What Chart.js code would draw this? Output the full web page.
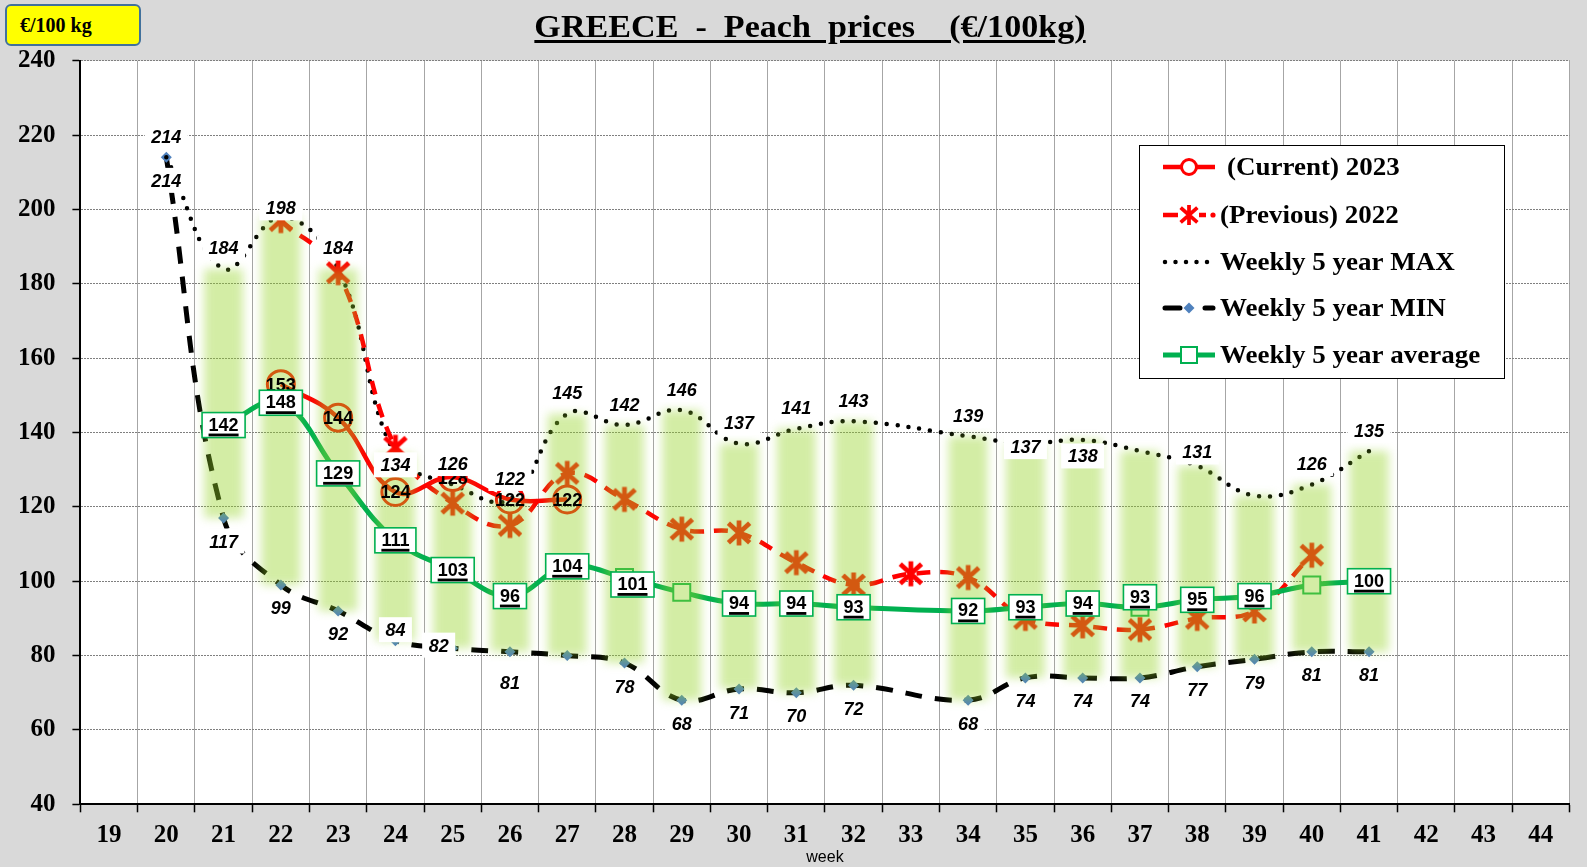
<!DOCTYPE html>
<html>
<head>
<meta charset="utf-8">
<script src="https://cdn.jsdelivr.net/npm/chart.js@4.4.1/dist/chart.umd.min.js"></script>
<style>
html,body{margin:0;padding:0;background:#d9d9d9;}
#wrap{position:relative;width:1587px;height:867px;overflow:hidden;background:#d9d9d9;}
#c{position:absolute;left:0;top:0;}
#unit{position:absolute;left:5px;top:4px;width:119px;height:38px;padding-left:13px;background:#ffff00;border:2px solid #41719c;border-radius:6px;font:bold 20px "Liberation Serif";line-height:38px;color:#000;}
#title{position:absolute;left:809.6px;top:11px;transform:translateX(-50%) scaleX(1.1);font:bold 31px "Liberation Serif";line-height:31px;white-space:pre;text-decoration:underline;text-decoration-thickness:2.5px;text-underline-offset:3px;color:#000;}
</style>
</head>
<body>
<div id="wrap">
<canvas id="c" width="1587" height="867"></canvas>
<div id="unit">€/100 kg</div>
<div id="title">GREECE  -  Peach  prices    (€/100kg)</div>
</div>
<script>
// ---------- DATA ----------
const weeks = ['19','20','21','22','23','24','25','26','27','28','29','30','31','32','33','34','35','36','37','38','39','40','41','42','43','44'];
//                19    20    21   22   23   24   25   26   27   28   29   30   31   32   33   34   35   36   37   38   39   40   41   42   43   44
const cur2023  = [null, null, null, 153, 144, 124, 128, 122, 122, null,null,null,null,null,null,null,null,null,null,null,null,null,null,null,null,null];
const prev2022 = [null, null, null, 197, 183, 136, 121, 115, 129, 122, 114, 113, 105, 99,  102, 101, 90,  88,  87,  90,  92,  107, null,null,null,null];
const max5y    = [null, 214,  184,  198, 184, 134, 126, 122, 145, 142, 146, 137, 141, 143, null,139, 137, 138, 135, 131, 123, 126, 135, null,null,null];
const min5y    = [null, 214,  117,  99,  92,  84,  82,  81,  80,  78,  68,  71,  70,  72,  null,68,  74,  74,  74,  77,  79,  81,  81,  null,null,null];
const avg5y    = [null, null, 142,  148, 129, 111, 103, 96,  104, 101, 97,  94,  94,  93,  null,92,  93,  94,  93,  95,  96,  99,  100, null,null,null];
const yTicks   = [40, 60, 80, 100, 120, 140, 160, 180, 200, 220, 240];
// weeks whose value label is not shown in the reference
const maxNoLabel = ['37','39'];
const minNoLabel = ['27'];
const avgNoLabel = ['29','40'];

// band between 5-year min and max (built from the arrays above)
const band = weeks.map((w,i)=> (max5y[i]!=null && min5y[i]!=null && max5y[i]>min5y[i]) ? [min5y[i], max5y[i]] : null);

// ---------- STYLE HELPERS ----------
function makeStar(color, s){
  const c=document.createElement('canvas'); c.width=s; c.height=s;
  const g=c.getContext('2d'); g.strokeStyle=color; g.lineWidth=s*0.17; g.lineCap='butt';
  const p=s*0.12, q=s*0.05;
  g.beginPath();
  g.moveTo(p,p+1); g.lineTo(s-p,s-p-1);
  g.moveTo(s-p,p+1); g.lineTo(p,s-p-1);
  g.moveTo(s/2,q); g.lineTo(s/2,s-q);
  g.stroke();
  return c;
}
const starImg = makeStar('#ff0000', 28);
const starLegend = makeStar('#ff0000', 22);

const FONT_LBL = 'bold 18px "Liberation Sans"';
const FONT_LBL_I = 'italic bold 18px "Liberation Sans"';

// label nudges (pixels) keyed by week
const labelNudge = {
  max: {'22':[0,12],'24':[0,31],'35':[0,24],'36':[0,37],'38':[0,7]},
  min: {'24':[0,-34],'25':[-14,-26],'26':[0,8]},
  avg: {'37':[0,-10],'28':[8,7]}
};

const plotBg = {
  id:'plotBg',
  beforeDraw(chart){
    const {ctx, chartArea:a} = chart;
    ctx.save(); ctx.fillStyle='#ffffff';
    ctx.fillRect(a.left, a.top, a.right-a.left, a.bottom-a.top);
    ctx.restore();
  }
};

const bandBlur = {
  id:'bandBlur',
  beforeDatasetDraw(chart, args){
    if(args.meta.type==='bar'){ chart.ctx.save(); chart.ctx.filter='blur(5px)'; }
  },
  afterDatasetDraw(chart, args){
    if(args.meta.type==='bar'){ chart.ctx.restore(); }
  }
};

const valueLabels = {
  id:'valueLabels',
  afterDatasetsDraw(chart){
    const ctx=chart.ctx;
    chart.data.datasets.forEach((ds,di)=>{
      const cfg=ds.valueLabels; if(!cfg) return;
      const meta=chart.getDatasetMeta(di);
      meta.data.forEach((el,i)=>{
        const v=ds.data[i]; if(v==null) return;
        const wk=chart.data.labels[i];
        if(cfg.hide && cfg.hide.includes(wk)) return;
        const nd=(cfg.nudge && cfg.nudge[wk]) || [0,0];
        const x=el.x+nd[0];
        const y=el.y+(cfg.dy||0)+nd[1];
        const txt=String(v);
        ctx.save();
        ctx.font=cfg.font;
        const w=ctx.measureText(txt).width;
        const cap=13;
        if(cfg.kind==='boxed' || cfg.kind==='avg'){
          const bw=w+13, bh=25;
          ctx.fillStyle='#ffffff';
          ctx.fillRect(x-bw/2, y-bh/2, bw, bh);
          if(cfg.kind==='avg'){
            ctx.strokeStyle='#00b050'; ctx.lineWidth=1.6;
            ctx.strokeRect(x-bw/2, y-bh/2, bw, bh);
          }
        }
        ctx.fillStyle='#000'; ctx.textAlign='center'; ctx.textBaseline='alphabetic';
        const base = cfg.kind==='avg' ? y+cap/2-1 : y+cap/2;
        ctx.fillText(txt, x, base);
        if(cfg.kind==='avg'){
          ctx.fillStyle='#000';
          ctx.fillRect(x-w/2, base+3, w, 2.8);
        }
        ctx.restore();
      });
    });
  }
};

function stretchText(ctx, txt, x, y, sx){
  ctx.save(); ctx.translate(x, y); ctx.scale(sx, 1); ctx.fillText(txt, 0, 0); ctx.restore();
}

const legendBox = {
  id:'legendBox',
  afterDraw(chart){
    const ctx=chart.ctx;
    const L={x:1139.5, y:145.5, w:365, h:233};
    ctx.save();
    ctx.fillStyle='#fff'; ctx.fillRect(L.x,L.y,L.w,L.h);
    ctx.strokeStyle='#000'; ctx.lineWidth=1; ctx.strokeRect(L.x,L.y,L.w,L.h);
    const rows=[167,215,262,308,355];
    const x0=1163, x1=1215, xm=1189, SX=1.08;
    ctx.font='bold 25px "Liberation Serif"'; ctx.textBaseline='alphabetic'; ctx.fillStyle='#000';
    const ds=chart.data.datasets;
    // current
    let y=rows[0];
    ctx.strokeStyle='#ff0000'; ctx.lineWidth=4.5; ctx.setLineDash([]);
    ctx.beginPath(); ctx.moveTo(x0,y); ctx.lineTo(x1,y); ctx.stroke();
    ctx.beginPath(); ctx.arc(xm,y,7.5,0,Math.PI*2); ctx.fillStyle='#fff'; ctx.fill(); ctx.lineWidth=3; ctx.stroke();
    ctx.fillStyle='#000'; stretchText(ctx, ds[1].label, 1227, y+8, SX);
    // previous
    y=rows[1];
    ctx.strokeStyle='#ff0000'; ctx.lineWidth=4.5;
    ctx.beginPath(); ctx.moveTo(x0,y); ctx.lineTo(1178,y); ctx.moveTo(1199,y); ctx.lineTo(1206,y); ctx.stroke();
    ctx.beginPath(); ctx.arc(1213,y,2.6,0,Math.PI*2); ctx.fillStyle='#ff0000'; ctx.fill();
    ctx.drawImage(starLegend, xm-11, y-11);
    ctx.fillStyle='#000'; stretchText(ctx, ds[2].label, 1220, y+8, SX);
    // max
    y=rows[2];
    ctx.strokeStyle='#000'; ctx.lineWidth=4.5; ctx.lineCap='round'; ctx.setLineDash([0,10.5]);
    ctx.beginPath(); ctx.moveTo(x0+2,y); ctx.lineTo(x1,y); ctx.stroke();
    ctx.setLineDash([]); ctx.lineCap='butt';
    stretchText(ctx, ds[3].label, 1220, y+8, SX);
    // min
    y=rows[3];
    ctx.strokeStyle='#000'; ctx.lineWidth=5; ctx.lineCap='round';
    ctx.beginPath(); ctx.moveTo(x0+2,y); ctx.lineTo(1180,y); ctx.moveTo(1205,y); ctx.lineTo(1213,y); ctx.stroke();
    ctx.lineCap='butt';
    ctx.fillStyle='#4f81bd'; ctx.beginPath(); ctx.moveTo(xm,y-5.5); ctx.lineTo(xm+5.5,y); ctx.lineTo(xm,y+5.5); ctx.lineTo(xm-5.5,y); ctx.closePath(); ctx.fill();
    ctx.fillStyle='#000'; stretchText(ctx, ds[4].label, 1220, y+8, SX);
    // avg
    y=rows[4];
    ctx.strokeStyle='#00b050'; ctx.lineWidth=5;
    ctx.beginPath(); ctx.moveTo(x0,y); ctx.lineTo(x1,y); ctx.stroke();
    ctx.fillStyle='#fff'; ctx.fillRect(xm-8,y-8,16,16); ctx.lineWidth=2; ctx.strokeRect(xm-8,y-8,16,16);
    ctx.fillStyle='#000'; stretchText(ctx, ds[5].label, 1220, y+8, SX);
    ctx.restore();
  }
};

// ---------- CHART ----------
new Chart(document.getElementById('c'), {
  type:'bar',
  data:{
    labels: weeks,
    datasets:[
      { type:'bar', label:'5 year range', data: band,
        backgroundColor:'rgba(150,212,40,0.42)', borderWidth:0,
        barPercentage:0.68, categoryPercentage:1, grouped:false, order:0 },
      { type:'line', label:'(Current) 2023', data: cur2023,
        borderColor:'#ff0000', borderWidth:4.5, tension:0.4, spanGaps:true,
        pointStyle:'circle', pointRadius:13.5, pointBorderColor:'#ff0000', pointBorderWidth:3,
        pointBackgroundColor:'rgba(0,0,0,0)', order:2,
        valueLabels:{kind:'plain', font:FONT_LBL, dy:0} },
      { type:'line', label:'(Previous) 2022', data: prev2022,
        borderColor:'#ff0000', borderWidth:4.5, borderDash:[14,10], tension:0.4, spanGaps:true,
        pointStyle: starImg, pointRadius:13, order:3 },
      { type:'line', label:'Weekly 5 year MAX', data: max5y,
        borderColor:'#000', borderWidth:4.5, borderDash:[0,11], borderCapStyle:'round',
        tension:0.4, spanGaps:true, pointRadius:0, order:4,
        valueLabels:{kind:'boxed', font:FONT_LBL_I, dy:-21, hide:maxNoLabel, nudge:labelNudge.max} },
      { type:'line', label:'Weekly 5 year MIN', data: min5y,
        borderColor:'#000', borderWidth:5, borderDash:[17,13],
        tension:0.4, spanGaps:true, pointStyle:'rectRot', pointRadius:5.5,
        pointBackgroundColor:'#4f81bd', pointBorderColor:'#4f81bd', pointBorderWidth:0, order:5,
        valueLabels:{kind:'boxed', font:FONT_LBL_I, dy:23, hide:minNoLabel, nudge:labelNudge.min} },
      { type:'line', label:'Weekly 5 year average', data: avg5y,
        borderColor:'#00b050', borderWidth:5, tension:0.4, spanGaps:true,
        pointStyle:'rect', pointRadius:12, pointBorderColor:'#00b050', pointBorderWidth:2,
        pointBackgroundColor:'#ffffff', order:1,
        valueLabels:{kind:'avg', font:FONT_LBL, dy:0, hide:avgNoLabel, nudge:labelNudge.avg} }
    ]
  },
  options:{
    responsive:false, animation:false, devicePixelRatio:1,
    layout:{padding:{top:60.7, right:1, left:0, bottom:0}},
    plugins:{ legend:{display:false}, tooltip:{enabled:false}, title:{display:false} },
    events:[],
    scales:{
      x:{
        type:'category', offset:true,
        grid:{offset:true, color:'#a6a6a6', lineWidth:1, tickLength:8, tickColor:'#000', tickWidth:1.5},
        border:{display:true, color:'#000', width:2},
        ticks:{font:{family:'Liberation Serif', weight:'bold', size:25}, color:'#000', padding:8, maxRotation:0, autoSkip:false},
        title:{display:true, text:'week', font:{family:'Liberation Sans', size:16}, color:'#000', padding:{top:0,bottom:0}},
        afterFit(s){ s.height = 62.7; }
      },
      y:{
        type:'linear', min:40, max:240,
        afterBuildTicks(s){ s.ticks = yTicks.map(v=>({value:v})); },
        grid:{color:'#7f7f7f', lineWidth:1, tickLength:8, tickColor:'#000', tickWidth:1.5},
        border:{display:true, color:'#000', width:2, dash:[2,1]},
        ticks:{font:{family:'Liberation Serif', weight:'bold', size:25}, color:'#000', padding:17},
        afterFit(s){ s.width = 80.4; }
      }
    }
  },
  plugins:[plotBg, bandBlur, valueLabels, legendBox]
});
</script>
</body>
</html>
